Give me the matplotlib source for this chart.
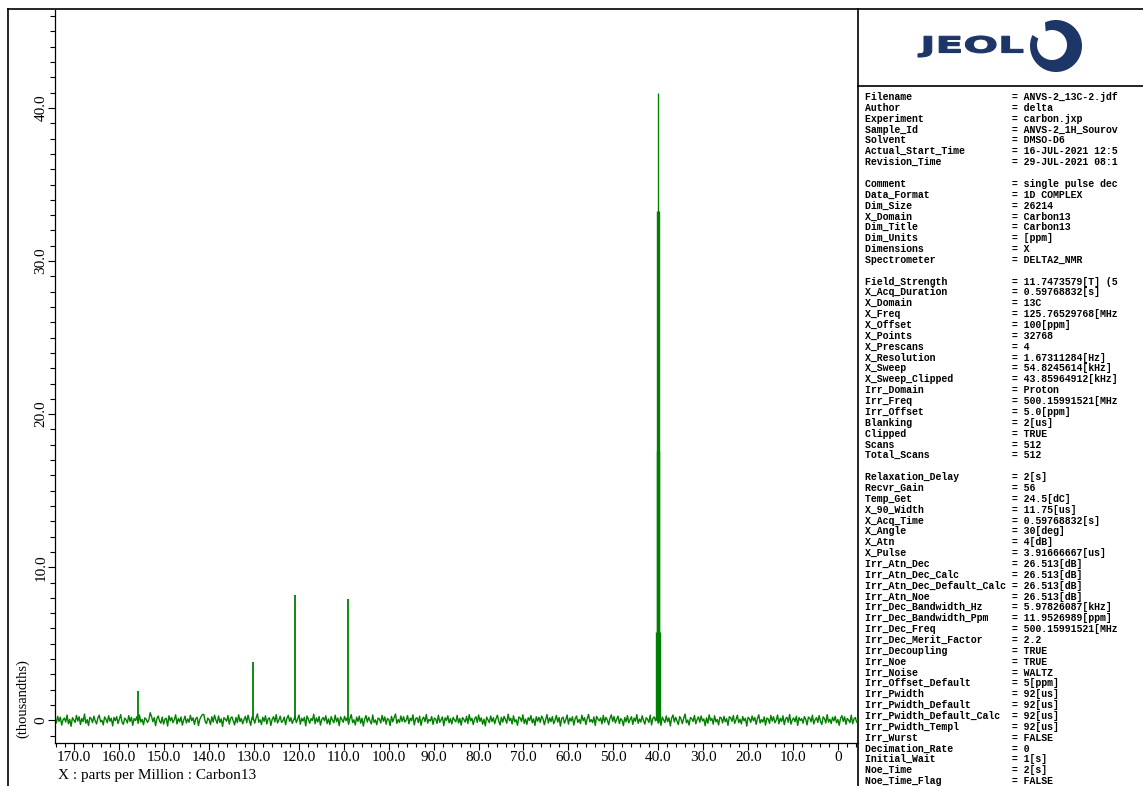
import numpy as np
import matplotlib.pyplot as plt
from matplotlib.ticker import MultipleLocator, FuncFormatter
from matplotlib.patches import Polygon, PathPatch
from matplotlib.lines import Line2D
from matplotlib.textpath import TextPath
from matplotlib.font_manager import FontProperties
from matplotlib.transforms import Affine2D

# ---- donnees du spectre (ppm / milliers) ----
ppm_start, ppm_stop = 174.2, -4.4

peak_ppm = [155.7, 130.1, 120.9, 109.0]
peak_height = [1.9, 3.8, 8.2, 7.9]

# septuplet du DMSO-d6
dmso_ppm = [40.58, 40.41, 40.25, 40.08, 39.91, 39.75, 39.58]
dmso_height = [5.8, 17.6, 33.3, 41.0, 33.3, 17.6, 5.8]

# bruit de ligne de base (unites de 0.0125 millier)
noise_unit = 0.0125
noise = [
    8, -14, 21, -6, 17, -25, 3, 12, -9, 28, -18, 5, -31, 14, 2, -11, 26, -4, 19, -22,
    10, -7, 33, -15, 4, -27, 16, 9, -12, 22, -3, -19, 13, 27, -8, 1, -24, 18, 6, -13,
    24, -5, 11, -29, 15, -2, 20, -17, 7, 30, -10, -21, 12, 3, -14, 25, -6, 16, -26, 9,
    -1, 19, -16, 28, -9, 5, -23, 13, 6, -11, 2, 40, 21, -7, 14, -28, 8, 23, -4, -15,
    17, -20, 6, 11, -30, 24, -3, 15, -12, 4, 29, -19, 10, -8, 18, -25, 1, 22, -14, 7,
    -10, 26, -2, 13, -21, 9, 16, -27, 5, 20, 30, 31, -6, -17, 12, 3, -22, 19, -9, 27,
    2, -16, 23, -11, 8, -32, 14, 6, -5, 25, -20, 11, 18, -4, -24, 15, -12, 29, -7, 10,
    -18, 4, 21, -13, 27, -1, -26, 17, 9, -15, 12, 34, -10, 3, -22, 16, -5, 24, -19, 8,
    13, -27, 5, 19, -8, 30, -14, 2, 22, -11, -3, 17, -23, 10, 26, -6, 14, -16, 1, 21,
    -12, 7, 28, -20, 11, -4, 16, -29, 23, 6, -15, 9, -1, 32, -18, 13, -9, 20, -25, 4,
    15, -3, 24, -17, 8, -22, 19, 1, -13, 27, -7, 12, -28, 18, 5, -10, 21, -2, 14, -21,
    9, 30, -12, 3, -24, 17, -6, 22, -15, 11, -30, 6, 25, -9, 16, -3, -19, 28, -11, 2,
    -23, 12, 7, -14, 26, -5, 18, -20, 10, 3, -27, 21, -8, 15, 33, -16, 4, -11, 23, -6,
    19, -9, 1, 25, -18, 11, -2, 29, -24, 8, 14, -12, 22, -26, 6, 17, -7, 31, -15, 5,
    -4, 20, -21, 12, 7, -16, 27, -10, 3, 18, -28, 13, -1, 24, -13, 9, -19, 16, 2, -8,
    26, -14, 10, -25, 15, 4, -9, 21, -17, 30, -3, 11, -22, 7, 19, -11, 28, -5, 13, -20,
    6, -29, 17, 2, -12, 23, -7, 14, -18, 9, 27, -4, -24, 16, -10, 21, 5, -15, 32, -2,
    11, -19, 24, -8, 3, -26, 18, 12, -6, 29, -16, 7, -21, 14, -1, 25, -13, 8, -27, 19,
    -5, 16, -11, 22, 9, -23, 4, 30, -14, 13, -7, 20, -18, 1, 26, -9, 15, -30, 10, 17,
    -15, 3, 28, -20, 12, -4, 19, -25, 8, 23, -11, 5, -17, 27, -2, 14, -22, 9, 31, -8,
    4, -12, 18, -27, 21, 7, -3, 13, -19, 26, -10, 16, 2, -23, 11, 29, -6, 20, -14, 6,
    22, -17, 9, 1, -28, 15, -8, 25, -13, 4, 19, -21, 12, -5, 30, -16, 7, -9, 24, -1,
    -20, 14, 5, -11, 27, -24, 10, 18, -3, 21, -15, 8, -26, 17, 3, -12, 23, -7, 13, -29,
    12, 28, -9, 16, -4, -22, 20, 6, -17, 11, 33, -13, 2, -25, 15, 9, -6, 26, -18, 4,
    18, -10, 23, -3, 7, -28, 13, -15, 29, -1, 10, -20, 24, -8, 5, -24, 17, 12, -14, 21,
    -7, 9, -26, 19, 14, -5, 25, -16, 3, 27, -12, 6, -19, 20, -3, 11, -30, 16, 8, -11,
    23, -2, 15, -21, 10, 29, -14, 4, -9, 18, -25, 12, 7, -16, 26, -4, 19, -13, 1, 28,
    -18, 11, -6, 24, -23, 8, 16, -10, 31, -20, 2, 13, -7, 22, -27, 15, -1, 9, -15, 20,
    5, -24, 17, 12, -8, 27, -19, 3, 14, -11, 25, -5, -22, 18, 9, -14, 30, -9, 6, -17,
    16, -3, 21, -13, 4, -26, 11, 24, -6, 19, -21, 10, 1, -12, 27, -18, 7, 15, -10, 3,
]

# ---- parametres d'acquisition (panneau de droite) ----
param_names = [
    'Filename', 'Author', 'Experiment', 'Sample_Id', 'Solvent', 'Actual_Start_Time',
    'Revision_Time', '', 'Comment', 'Data_Format', 'Dim_Size', 'X_Domain', 'Dim_Title',
    'Dim_Units', 'Dimensions', 'Spectrometer', '', 'Field_Strength', 'X_Acq_Duration',
    'X_Domain', 'X_Freq', 'X_Offset', 'X_Points', 'X_Prescans', 'X_Resolution', 'X_Sweep',
    'X_Sweep_Clipped', 'Irr_Domain', 'Irr_Freq', 'Irr_Offset', 'Blanking', 'Clipped',
    'Scans', 'Total_Scans', '', 'Relaxation_Delay', 'Recvr_Gain', 'Temp_Get', 'X_90_Width',
    'X_Acq_Time', 'X_Angle', 'X_Atn', 'X_Pulse', 'Irr_Atn_Dec', 'Irr_Atn_Dec_Calc',
    'Irr_Atn_Dec_Default_Calc', 'Irr_Atn_Noe', 'Irr_Dec_Bandwidth_Hz', 'Irr_Dec_Bandwidth_Ppm',
    'Irr_Dec_Freq', 'Irr_Dec_Merit_Factor', 'Irr_Decoupling', 'Irr_Noe', 'Irr_Noise',
    'Irr_Offset_Default', 'Irr_Pwidth', 'Irr_Pwidth_Default', 'Irr_Pwidth_Default_Calc',
    'Irr_Pwidth_Templ', 'Irr_Wurst', 'Decimation_Rate', 'Initial_Wait', 'Noe_Time',
    'Noe_Time_Flag',
]
param_values = [
    'ANVS-2_13C-2.jdf', 'delta', 'carbon.jxp', 'ANVS-2_1H_Sourov', 'DMSO-D6',
    '16-JUL-2021 12:5', '29-JUL-2021 08:1', '', 'single pulse dec', '1D COMPLEX', '26214',
    'Carbon13', 'Carbon13', '[ppm]', 'X', 'DELTA2_NMR', '', '11.7473579[T] (5',
    '0.59768832[s]', '13C', '125.76529768[MHz', '100[ppm]', '32768', '4', '1.67311284[Hz]',
    '54.8245614[kHz]', '43.85964912[kHz]', 'Proton', '500.15991521[MHz', '5.0[ppm]', '2[us]',
    'TRUE', '512', '512', '', '2[s]', '56', '24.5[dC]', '11.75[us]', '0.59768832[s]',
    '30[deg]', '4[dB]', '3.91666667[us]', '26.513[dB]', '26.513[dB]', '26.513[dB]',
    '26.513[dB]', '5.97826087[kHz]', '11.9526989[ppm]', '500.15991521[MHz', '2.2', 'TRUE',
    'TRUE', 'WALTZ', '5[ppm]', '92[us]', '92[us]', '92[us]', '92[us]', 'FALSE', '0', '1[s]',
    '2[s]', 'FALSE',
]

plt.rcParams['font.family'] = 'Liberation Serif'
W, H = 1143, 786
fig = plt.figure(figsize=(W / 100, H / 100), dpi=100)

# ---- cadre et decor (coordonnees en pixels) ----
deco = fig.add_axes([0, 0, 1, 1])
deco.set_xlim(0, W)
deco.set_ylim(0, H)
deco.axis('off')
for xs, ys in [([8, 8], [0, H - 9]), ([8, W], [H - 9, H - 9]),
               ([858, 858], [0, H - 9]), ([858, W], [H - 86, H - 86])]:
    deco.add_line(Line2D(xs, ys, color='black', lw=1.2))

# logo JEOL
navy = '#1c3668'
tp = TextPath((0, 0), 'JEOL', size=1,
              prop=FontProperties(family='DejaVu Sans', weight='bold'))
bb = tp.get_extents()
tr = (Affine2D().translate(-bb.x0, -bb.y0)
      .scale((1023 - 918) / bb.width, 21 / bb.height)
      .translate(918, H - 57))
deco.add_patch(PathPatch(tr.transform_path(tp), color=navy, lw=0.8))
t = np.radians(np.linspace(115, -205, 120))
outer = np.c_[1056 + 26 * np.cos(t), (H - 46) + 26 * np.sin(t)]
inner = np.c_[1052 + 15 * np.cos(t), (H - 45) + 15 * np.sin(t)][::-1]
deco.add_patch(Polygon(np.vstack([outer, inner]), closed=True, color=navy, lw=0))

# texte des parametres
for i, (name, val) in enumerate(zip(param_names, param_values)):
    if not name:
        continue
    y = H - (97 + i * 10.86)
    fig.text(865 / W, y / H, f'{name:<25}= {val}', family='Liberation Mono',
             fontweight='bold', fontsize=7.1, va='center', ha='left')

# ---- spectre ----
ax = fig.add_axes([55 / W, (H - 743) / H, (858 - 55) / W, (743 - 10) / H])
ax.patch.set_alpha(0)

ppm_grid = np.linspace(ppm_start, ppm_stop, len(noise))
green = '#008000'
ax.plot(ppm_grid, np.array(noise) * noise_unit, color=green, lw=1.0)
ax.vlines(peak_ppm, 0, peak_height, color=green, lw=1.3)
ax.vlines(dmso_ppm, 0, dmso_height, color=green, lw=1.0)

ax.set_xlim(ppm_start, ppm_stop)
ax.set_ylim(-1.48, 46.4)

for s in ['top', 'right']:
    ax.spines[s].set_visible(False)
ax.spines['left'].set_linewidth(0.9)
ax.spines['bottom'].set_linewidth(0.9)

ax.xaxis.set_major_locator(MultipleLocator(10))
ax.xaxis.set_minor_locator(MultipleLocator(2))
ax.yaxis.set_major_locator(MultipleLocator(10))
ax.yaxis.set_minor_locator(MultipleLocator(1))
fmt = FuncFormatter(lambda v, p: '0' if abs(v) < 1e-9 else f'{v:.1f}')
ax.xaxis.set_major_formatter(fmt)
ax.yaxis.set_major_formatter(fmt)

ax.tick_params(axis='x', which='major', length=5, width=0.8, pad=0.8, labelsize=11)
ax.tick_params(axis='x', which='minor', length=3, width=0.8)
ax.tick_params(axis='y', which='major', length=5, width=0.8, pad=0.5, labelsize=11,
               labelrotation=90)
ax.tick_params(axis='y', which='minor', length=3.5, width=0.8)
plt.setp(ax.get_yticklabels(), va='center')

fig.text(23 / W, (H - 699) / H, '(thousandths)', rotation=90, ha='center', va='center',
         fontsize=10.5)
fig.text(58 / W, (H - 775) / H, 'X : parts per Million : Carbon13', ha='left',
         va='center', fontsize=11)

fig.savefig('out.png', dpi=100)
